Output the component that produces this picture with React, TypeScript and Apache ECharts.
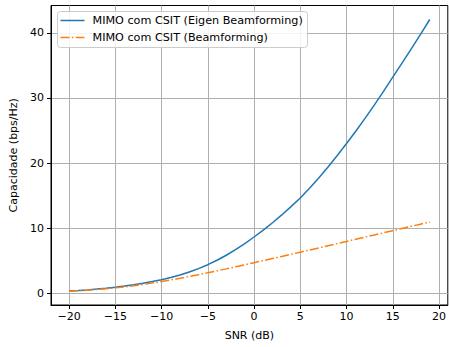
import React, { useEffect, useRef } from "react";
import * as echarts from "echarts";

const snrDb = [-20,-19,-18,-17,-16,-15,-14,-13,-12,-11,-10,-9,-8,-7,-6,-5,-4,-3,-2,-1,0,1,2,3,4,5,6,7,8,9,10,11,12,13,14,15,16,17,18,19];
const eigenBeamforming = [0.35,0.43,0.53,0.65,0.79,0.95,1.13,1.33,1.56,1.81,2.10,2.43,2.82,3.28,3.80,4.40,5.08,5.85,6.70,7.63,8.65,9.71,10.84,12.04,13.31,14.65,16.13,17.71,19.39,21.17,23.0,24.90,26.87,28.91,31.02,33.2,35.35,37.55,39.78,42.05];
const beamforming = [0.322,0.395,0.481,0.584,0.703,0.840,0.997,1.172,1.366,1.578,1.807,2.052,2.311,2.582,2.864,3.155,3.453,3.758,4.068,4.383,4.700,5.021,5.344,5.669,5.995,6.323,6.651,6.981,7.310,7.641,7.972,8.302,8.633,8.965,9.296,9.627,9.960,10.291,10.623,10.955];
const xTicks = [-20, -15, -10, -5, 0, 5, 10, 15, 20];
const yTicks = [0, 10, 20, 30, 40];
const seriesNames = ["MIMO com CSIT (Eigen Beamforming)", "MIMO com CSIT (Beamforming)"];
const seriesColors = ["#1f77b4", "#ff7f0e"];
const dashDot = [9, 2.4, 1.5, 2.4];

const FONT = "DejaVu Sans";

export default function App() {
  const ref = useRef<HTMLDivElement>(null);
  useEffect(() => {
    if (!ref.current) return;
    const chart = echarts.init(ref.current, undefined, { renderer: "svg" });
    const fmt = (v: number) => String(v).replace("-", "\u2212");
    const axisCommon = {
      axisLine: { show: true, onZero: false, lineStyle: { color: "#000", width: 1 } },
      axisTick: { show: true, length: 4, lineStyle: { color: "#000", width: 1 } },
      splitLine: { show: true, lineStyle: { color: "#b0b0b0", width: 1 } },
      nameTextStyle: { fontFamily: FONT, fontSize: 11, color: "#000" },
    };
    const legendRows = [20.5, 37.5];
    chart.setOption({
      animation: false,
      backgroundColor: "#fff",
      grid: { left: 51, top: 5.5, right: -3, bottom: 42, containLabel: false, show: true, borderColor: "#000", borderWidth: 1, backgroundColor: "transparent" },
      graphic: [
        {
          type: "rect",
          z: 100,
          shape: { x: 57.5, y: 11.5, width: 250, height: 36, r: 3 },
          style: { fill: "rgba(255,255,255,0.85)", stroke: "#cccccc", lineWidth: 1 },
        },
        ...seriesNames.flatMap((n, i) => [
          {
            type: "line",
            z: 101,
            shape: { x1: 60.5, y1: legendRows[i], x2: 84.5, y2: legendRows[i] },
            style: { stroke: seriesColors[i], lineWidth: 1.5, lineDash: i === 1 ? dashDot : null },
          },
          {
            type: "text",
            z: 101,
            x: 92.5,
            y: legendRows[i],
            style: { text: n, fontFamily: FONT, fontSize: 11.2, fill: "#000", verticalAlign: "middle", align: "left" },
          },
        ]),
      ],
      xAxis: {
        type: "value",
        min: -21.95,
        max: 20.95,
        name: "SNR (dB)",
        nameLocation: "middle",
        nameGap: 25,
        ...axisCommon,
        axisTick: { ...axisCommon.axisTick, customValues: xTicks },
        axisLabel: { customValues: xTicks, formatter: fmt, fontFamily: FONT, fontSize: 11, color: "#000", margin: 6 },
      },
      yAxis: {
        type: "value",
        min: -1.79,
        max: 44.2,
        name: "Capacidade (bps/Hz)",
        nameLocation: "middle",
        nameGap: 22,
        ...axisCommon,
        axisTick: { ...axisCommon.axisTick, customValues: yTicks },
        axisLabel: { customValues: yTicks, formatter: fmt, fontFamily: FONT, fontSize: 11, color: "#000", margin: 7 },
      },
      series: [
        {
          name: seriesNames[0],
          type: "line",
          data: snrDb.map((x, i) => [x, eigenBeamforming[i]]),
          showSymbol: false,
          symbol: "none",
          color: seriesColors[0],
          lineStyle: { color: seriesColors[0], width: 1.5 },
        },
        {
          name: seriesNames[1],
          type: "line",
          data: snrDb.map((x, i) => [x, beamforming[i]]),
          showSymbol: false,
          symbol: "none",
          color: seriesColors[1],
          lineStyle: { color: seriesColors[1], width: 1.5, type: dashDot },
        },
      ],
    });
    return () => chart.dispose();
  }, []);
  return <div ref={ref} style={{ position: "fixed", left: 0, top: 0, width: 449, height: 347 }} />;
}
